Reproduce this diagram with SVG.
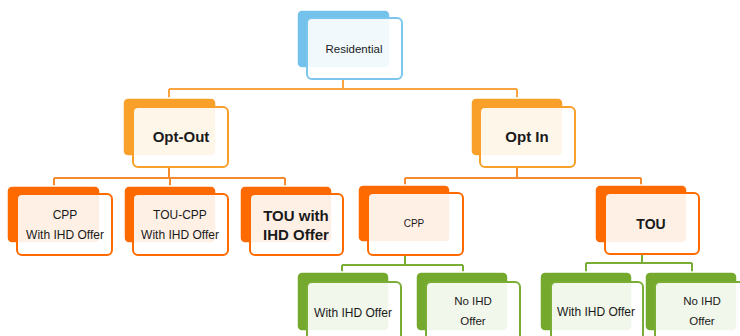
<svg xmlns="http://www.w3.org/2000/svg" width="740" height="336" viewBox="0 0 740 336">
<style>
.bk{stroke:#fff;stroke-width:1.5}
.fr{fill:#fff;fill-opacity:0.9;stroke-width:2}
.blue .bk{fill:#74c1ec}.blue .fr{stroke:#7cc6ee}
.or1 .bk{fill:#f9a02a}.or1 .fr{stroke:#f9a02a}
.or2 .bk{fill:#ff6a00}.or2 .fr{stroke:#ff6a00}
.gr .bk{fill:#74a92e}.gr .fr{stroke:#7aad36}
text{font-family:"Liberation Sans",Arial,sans-serif;fill:#1a1a1a;text-anchor:middle}
.b{font-weight:bold;font-size:15px}
.n{font-size:12px}
.c{fill:none;stroke-width:2}
</style>
<rect width="740" height="336" fill="#fff"/>
<g id="connectors">
<path class="c" stroke="#f9a440" d="M343,79V89M169,89H517M169,89V98M517,89V98"/>
<path class="c" stroke="#f58a2e" d="M169,167V178M54,178H285M54,178V186M170,178V186M285,178V186"/>
<path class="c" stroke="#f58a2e" d="M517,167V178M405,178H641M405,178V185M641,178V185"/>
<path class="c" stroke="#7aad36" d="M405,255V265M342,265H463M342,265V272M463,265V272"/>
<path class="c" stroke="#7aad36" d="M642,254V263M586,263H692M586,263V272M692,263V272"/>
</g>
<g id="residential" class="blue">
<rect class="bk" x="297" y="10" width="93" height="58" rx="5"/>
<rect class="fr" x="307" y="18" width="95" height="61" rx="5"/>
<text class="n" x="354" y="53" style="font-size:11.5px">Residential</text>
</g>
<g id="opt-out" class="or1">
<rect class="bk" x="123" y="98" width="93" height="58" rx="5"/>
<rect class="fr" x="133" y="107" width="95" height="60" rx="5"/>
<text class="b" x="181" y="142">Opt-Out</text>
</g>
<g id="opt-in" class="or1">
<rect class="bk" x="471" y="98" width="92" height="58" rx="5"/>
<rect class="fr" x="480" y="107" width="95" height="60" rx="5"/>
<text class="b" x="527" y="142">Opt In</text>
</g>
<g id="cpp-out" class="or2">
<rect class="bk" x="7" y="186" width="93" height="57" rx="5"/>
<rect class="fr" x="17" y="194" width="95" height="61" rx="5"/>
<text class="n" x="65" y="219">CPP</text>
<text class="n" x="65" y="239">With IHD Offer</text>
</g>
<g id="tou-cpp" class="or2">
<rect class="bk" x="124" y="186" width="92" height="57" rx="5"/>
<rect class="fr" x="133" y="194" width="95" height="61" rx="5"/>
<text class="n" x="180" y="219">TOU-CPP</text>
<text class="n" x="180" y="239">With IHD Offer</text>
</g>
<g id="tou-ihd" class="or2">
<rect class="bk" x="240" y="186" width="92" height="57" rx="5"/>
<rect class="fr" x="250" y="194" width="93" height="61" rx="5"/>
<text class="b" x="296" y="221">TOU with</text>
<text class="b" x="296" y="240">IHD Offer</text>
</g>
<g id="cpp-in" class="or2">
<rect class="bk" x="358" y="185" width="92" height="57" rx="5"/>
<rect class="fr" x="368" y="193" width="95" height="62" rx="5"/>
<text class="n" x="414" y="227" style="font-size:10px">CPP</text>
</g>
<g id="tou" class="or2">
<rect class="bk" x="595" y="185" width="92" height="58" rx="5"/>
<rect class="fr" x="605" y="193" width="94" height="61" rx="5"/>
<text class="b" x="651" y="229" style="font-size:14px">TOU</text>
</g>
<g id="cpp-with" class="gr">
<rect class="bk" x="297" y="272" width="92" height="59" rx="5"/>
<rect class="fr" x="307" y="282" width="94" height="62" rx="5"/>
<text class="n" x="353" y="317">With IHD Offer</text>
</g>
<g id="cpp-no" class="gr">
<rect class="bk" x="416" y="272" width="92" height="59" rx="5"/>
<rect class="fr" x="426" y="282" width="94" height="62" rx="5"/>
<text class="n" x="473" y="305" style="font-size:11.5px">No IHD</text>
<text class="n" x="473" y="325" style="font-size:11.5px">Offer</text>
</g>
<g id="tou-with" class="gr">
<rect class="bk" x="540" y="272" width="92" height="59" rx="5"/>
<rect class="fr" x="551" y="282" width="92" height="62" rx="5"/>
<text class="n" x="596" y="316">With IHD Offer</text>
</g>
<g id="tou-no" class="gr">
<rect class="bk" x="645" y="272" width="92" height="59" rx="5"/>
<rect class="fr" x="655" y="282" width="92" height="62" rx="5"/>
<text class="n" x="702" y="305" style="font-size:11.5px">No IHD</text>
<text class="n" x="702" y="325" style="font-size:11.5px">Offer</text>
</g>
</svg>
